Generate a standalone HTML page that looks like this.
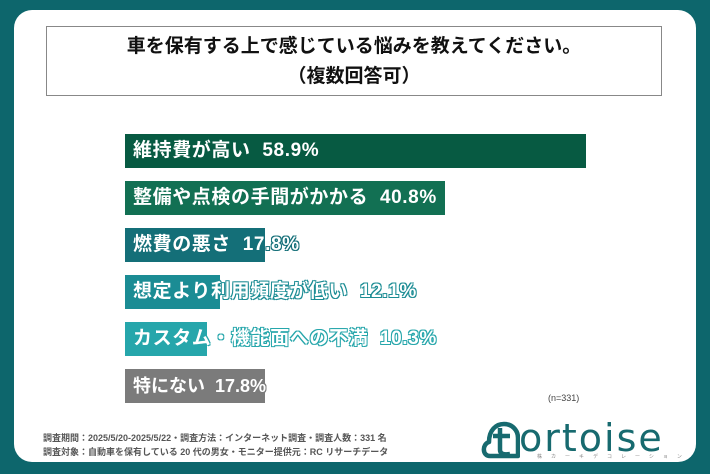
<!DOCTYPE html>
<html><head><meta charset="utf-8"><style>
body{margin:0;width:710px;height:474px;background:#0d666c;overflow:hidden;font-family:"Liberation Sans","Noto Sans CJK JP",sans-serif;position:relative}
.card{position:absolute;left:14px;top:10px;width:682px;height:452px;background:#fff;border-radius:18px}
.title{position:absolute;left:46px;top:26px;width:616px;height:70px;border:1.5px solid #888;box-sizing:border-box;text-align:center;font-weight:bold;font-size:19px;line-height:30px;padding-top:5px;color:#111}
.bar{position:absolute;left:125px;height:34px}
.lab{position:absolute;left:133px;font-weight:bold;font-size:19px;letter-spacing:0.6px;color:#fff;line-height:34px;white-space:nowrap}
.foot{position:absolute;left:43px;font-size:9px;color:#555;font-weight:bold}
</style></head><body>
<div class="card"></div>
<div class="title">車を保有する上で感じている悩みを教えてください。<br>（複数回答可）</div>

<div class="bar" style="top:134px;width:461px;background:#075a42"></div>
<div class="lab" style="top:134px">維持費が高い&nbsp;&nbsp;58.9%</div>
<div class="bar" style="top:181px;width:320px;background:#127053"></div>
<div class="lab" style="top:181px">整備や点検の手間がかかる&nbsp;&nbsp;40.8%</div>
<div class="bar" style="top:228px;width:140px;background:#146f78"></div>
<div class="lab" style="top:228px;text-shadow:-1px -1px 0 #146f78,1px -1px 0 #146f78,-1px 1px 0 #146f78,1px 1px 0 #146f78">燃費の悪さ&nbsp;&nbsp;17.8%</div>
<div class="bar" style="top:275px;width:95px;background:#1b8c94"></div>
<div class="lab" style="top:275px;text-shadow:-1px -1px 0 #1b8c94,1px -1px 0 #1b8c94,-1px 1px 0 #1b8c94,1px 1px 0 #1b8c94">想定より利用頻度が低い&nbsp;&nbsp;12.1%</div>
<div class="bar" style="top:322px;width:82px;background:#26a6ab"></div>
<div class="lab" style="top:322px;text-shadow:-1px -1px 0 #26a6ab,1px -1px 0 #26a6ab,-1px 1px 0 #26a6ab,1px 1px 0 #26a6ab">カスタム・機能面への不満&nbsp;&nbsp;10.3%</div>
<div class="bar" style="top:369px;width:140px;background:#7b7b7b"></div>
<div class="lab" style="top:369px;font-size:18px;letter-spacing:0;text-shadow:-1px -1px 0 #7b7b7b,1px -1px 0 #7b7b7b,-1px 1px 0 #7b7b7b,1px 1px 0 #7b7b7b">特にない&nbsp;&nbsp;17.8%</div>

<div style="position:absolute;left:548px;top:393px;font-size:9px;color:#444">(n=331)</div>
<div class="foot" style="top:431px">調査期間：2025/5/20-2025/5/22・調査方法：インターネット調査・調査人数：331 名</div>
<div class="foot" style="top:445px">調査対象：自動車を保有している 20 代の男女・モニター提供元：RC リサーチデータ</div>

<svg style="position:absolute;left:480px;top:418px" width="40" height="44" viewBox="0 0 40 44">
<path d="M10 38 C2 38 2 26 9 24 C9 12 16 6 24 6 C32 6 38 12 38 20 L38 38 Z" fill="none" stroke="#176a6f" stroke-width="4.5" stroke-linejoin="round"/>
<path d="M20 10 L20 32 C20 36 24 37 30 36 M13 18 L30 18" fill="none" stroke="#176a6f" stroke-width="4.5"/>
</svg>
<div style="position:absolute;left:519px;top:416px;font-size:38px;color:#176a6f;letter-spacing:2px;font-family:'DejaVu Sans',sans-serif">ortoise</div>
<div style="position:absolute;left:537px;top:453px;font-size:5px;color:#888;letter-spacing:9px">株カーキデコレーション</div>
</body></html>
